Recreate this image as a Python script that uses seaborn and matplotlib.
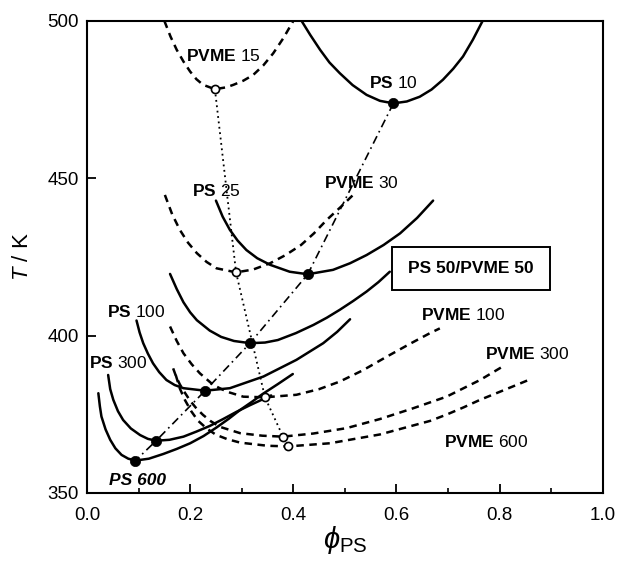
import matplotlib
matplotlib.use("Agg")
import matplotlib.pyplot as plt
import seaborn as sns
from matplotlib.patches import Rectangle
from matplotlib.ticker import MultipleLocator

# ---- PS-component cloud-point curves (solid) ----
ps10_phi = [0.416, 0.433, 0.452, 0.470, 0.490, 0.515, 0.542, 0.568, 0.594, 0.620, 0.645, 0.668, 0.690, 0.710, 0.729, 0.748, 0.767]
ps10_T = [500.0, 495.5, 490.8, 486.8, 483.4, 479.6, 476.5, 474.6, 473.8, 474.4, 475.9, 478.2, 481.3, 484.8, 488.7, 494.0, 500.0]

ps25_phi = [0.250, 0.263, 0.277, 0.292, 0.309, 0.330, 0.355, 0.393, 0.428, 0.477, 0.510, 0.542, 0.575, 0.607, 0.640, 0.671]
ps25_T = [442.9, 437.8, 433.6, 430.2, 427.2, 424.6, 422.5, 420.3, 419.5, 420.9, 423.0, 425.6, 428.8, 432.5, 437.4, 442.9]

ps50_phi = [0.161, 0.174, 0.187, 0.200, 0.213, 0.238, 0.260, 0.285, 0.316, 0.345, 0.370, 0.405, 0.439, 0.465, 0.490, 0.516, 0.542, 0.565, 0.587]
ps50_T = [419.6, 414.8, 410.6, 407.4, 404.9, 401.6, 399.6, 398.3, 397.6, 397.8, 398.6, 400.8, 403.4, 405.7, 408.2, 411.0, 414.0, 417.0, 420.3]

ps100_phi = [0.096, 0.102, 0.109, 0.118, 0.128, 0.140, 0.154, 0.170, 0.187, 0.229, 0.277, 0.342, 0.406, 0.458, 0.485, 0.510]
ps100_T = [404.8, 401.0, 397.6, 394.3, 391.2, 388.4, 385.9, 384.3, 383.3, 382.5, 383.3, 387.0, 392.3, 397.6, 401.2, 405.2]

ps300_phi = [0.041, 0.045, 0.051, 0.060, 0.070, 0.085, 0.103, 0.118, 0.134, 0.160, 0.187, 0.212, 0.238, 0.264, 0.290, 0.316, 0.357]
ps300_T = [387.5, 383.0, 379.6, 376.0, 373.2, 370.5, 368.4, 367.2, 366.6, 366.9, 367.9, 369.5, 371.3, 373.5, 375.8, 377.9, 381.0]

ps600_phi = [0.022, 0.025, 0.028, 0.036, 0.045, 0.055, 0.067, 0.080, 0.094, 0.120, 0.148, 0.174, 0.200, 0.226, 0.251, 0.275, 0.297, 0.320, 0.340, 0.370, 0.399]
ps600_T = [381.7, 377.5, 374.3, 370.2, 366.9, 364.2, 362.1, 360.9, 360.3, 360.9, 362.4, 364.0, 365.8, 368.1, 370.8, 373.6, 376.4, 379.0, 381.4, 384.6, 387.8]

# ---- PVME-component cloud-point curves (dashed) ----
pvme15_phi = [0.150, 0.162, 0.174, 0.187, 0.200, 0.212, 0.225, 0.248, 0.270, 0.284, 0.303, 0.322, 0.342, 0.361, 0.381, 0.400]
pvme15_T = [500.0, 495.0, 490.8, 487.1, 483.9, 481.5, 479.7, 478.3, 478.9, 479.7, 481.0, 482.8, 485.9, 489.7, 494.6, 500.0]

pvme30_phi = [0.151, 0.165, 0.180, 0.196, 0.213, 0.232, 0.251, 0.289, 0.322, 0.355, 0.385, 0.415, 0.440, 0.465, 0.492, 0.519]
pvme30_T = [444.7, 438.6, 433.6, 429.5, 426.2, 423.4, 421.4, 420.1, 421.0, 423.0, 425.6, 428.8, 432.5, 436.8, 440.9, 445.2]

pvme100_phi = [0.161, 0.174, 0.187, 0.203, 0.219, 0.245, 0.271, 0.303, 0.345, 0.406, 0.450, 0.490, 0.535, 0.581, 0.625, 0.665, 0.684]
pvme100_T = [402.9, 398.3, 394.4, 390.9, 388.0, 384.3, 382.2, 380.6, 380.4, 381.2, 383.0, 385.4, 389.0, 393.3, 397.3, 400.8, 402.3]

pvme300_phi = [0.167, 0.173, 0.180, 0.190, 0.200, 0.212, 0.225, 0.240, 0.258, 0.297, 0.340, 0.380, 0.439, 0.503, 0.568, 0.632, 0.697, 0.762, 0.803]
pvme300_T = [389.6, 386.9, 384.5, 381.8, 379.3, 376.9, 374.8, 372.8, 371.0, 369.0, 368.2, 367.9, 368.9, 370.6, 373.5, 376.9, 380.6, 385.9, 389.9]

pvme600_phi = [0.172, 0.180, 0.190, 0.202, 0.215, 0.232, 0.250, 0.272, 0.297, 0.350, 0.390, 0.471, 0.568, 0.665, 0.697, 0.730, 0.762, 0.810, 0.859]
pvme600_T = [387.5, 383.2, 379.5, 376.0, 373.0, 370.5, 368.5, 367.1, 366.0, 365.0, 364.8, 365.8, 368.6, 372.9, 374.9, 377.2, 379.6, 382.8, 386.1]

# ---- critical points ----
ps_crit_phi = [0.594, 0.428, 0.316, 0.229, 0.134, 0.094]
ps_crit_T = [473.8, 419.5, 397.6, 382.5, 366.6, 360.3]

pvme_crit_phi = [0.248, 0.289, 0.345, 0.380, 0.390]
pvme_crit_T = [478.3, 420.1, 380.4, 367.9, 364.8]

# ---- curve labels ----
label_text = [r"$\mathbf{PVME}$ 15", r"$\mathbf{PS}$ 10", r"$\mathbf{PS}$ 25", r"$\mathbf{PVME}$ 30",
              r"$\mathbf{PS}$ 100", r"$\mathbf{PS}$ 300", r"$\mathbf{PVME}$ 100",
              r"$\mathbf{PVME}$ 300", r"$\mathbf{PVME}$ 600"]
label_phi = [0.264, 0.593, 0.250, 0.531, 0.096, 0.061, 0.729, 0.854, 0.774]
label_T = [488.7, 480.2, 445.8, 448.4, 407.6, 391.4, 406.7, 394.3, 366.3]

sns.set_theme(style="ticks")
plt.rcParams["font.family"] = ["Liberation Sans", "DejaVu Sans"]
plt.rcParams["text.color"] = "black"
plt.rcParams["axes.labelcolor"] = "black"
plt.rcParams["mathtext.fontset"] = "custom"
plt.rcParams["mathtext.rm"] = "Liberation Sans"
plt.rcParams["mathtext.it"] = "Liberation Sans:italic"
plt.rcParams["mathtext.bf"] = "Liberation Sans:bold"

fig = plt.figure(figsize=(6.17, 5.62), dpi=100)
ax = fig.add_axes([0.141, 0.1228, 0.836, 0.84])

solid_kw = dict(color="black", linewidth=1.8, estimator=None, sort=False)
dash_kw = dict(color="black", linewidth=1.8, estimator=None, sort=False,
               linestyle=(0, (3.0, 2.2)))

for phi, T in [(ps10_phi, ps10_T), (ps25_phi, ps25_T), (ps50_phi, ps50_T),
               (ps100_phi, ps100_T), (ps300_phi, ps300_T), (ps600_phi, ps600_T)]:
    sns.lineplot(x=phi, y=T, ax=ax, **solid_kw)

for phi, T in [(pvme15_phi, pvme15_T), (pvme30_phi, pvme30_T), (pvme100_phi, pvme100_T),
               (pvme300_phi, pvme300_T), (pvme600_phi, pvme600_T)]:
    sns.lineplot(x=phi, y=T, ax=ax, **dash_kw)

# loci of the critical points
sns.lineplot(x=ps_crit_phi, y=ps_crit_T, ax=ax, color="black", linewidth=1.2,
             estimator=None, sort=False, linestyle=(0, (5, 2.5, 1, 2.5)))
sns.lineplot(x=pvme_crit_phi, y=pvme_crit_T, ax=ax, color="black", linewidth=1.3,
             estimator=None, sort=False, linestyle=(0, (1, 2)))

sns.scatterplot(x=ps_crit_phi, y=ps_crit_T, ax=ax, color="black", edgecolor="black",
                s=55, linewidth=0.5, zorder=5)
sns.scatterplot(x=pvme_crit_phi, y=pvme_crit_T, ax=ax, color="white", edgecolor="black",
                s=34, linewidth=1.2, zorder=5)

for s, xp, yp in zip(label_text, label_phi, label_T):
    ax.text(xp, yp, s, ha="center", va="center", fontsize=12.5, color="black", zorder=6)

ax.text(0.097, 354.1, "PS 600", ha="center", va="center", fontsize=12.5,
        fontstyle="italic", fontweight="bold", color="black", zorder=6)

# boxed label
ax.add_patch(Rectangle((0.592, 414.5), 0.306, 13.8, facecolor="white",
                       edgecolor="black", linewidth=1.4, zorder=6))
ax.text(0.745, 421.4, "PS 50/PVME 50", ha="center", va="center", fontsize=12.5,
        fontweight="bold", color="black", zorder=7)

ax.set_xlim(0.0, 1.0)
ax.set_ylim(350, 500)
ax.xaxis.set_major_locator(MultipleLocator(0.2))
ax.xaxis.set_minor_locator(MultipleLocator(0.1))
ax.yaxis.set_major_locator(MultipleLocator(50))
ax.set_xticklabels([f"{v:.1f}" for v in ax.get_xticks()])
ax.tick_params(which="major", direction="in", length=6.5, width=1.3, labelsize=13.5,
               color="black", labelcolor="black")
ax.tick_params(which="minor", direction="in", length=3.5, width=1.2, color="black")
ax.tick_params(axis="x", pad=10)
ax.tick_params(axis="y", pad=6)
for sp in ax.spines.values():
    sp.set_linewidth(1.5)
    sp.set_color("black")

ax.set_xlabel(r"$\phi_{\mathrm{PS}}$", fontsize=21, labelpad=0, color="black")
ax.set_ylabel(r"$T$ / K", fontsize=16, labelpad=10, color="black")

fig.savefig("out.png", dpi=100, facecolor="white")
